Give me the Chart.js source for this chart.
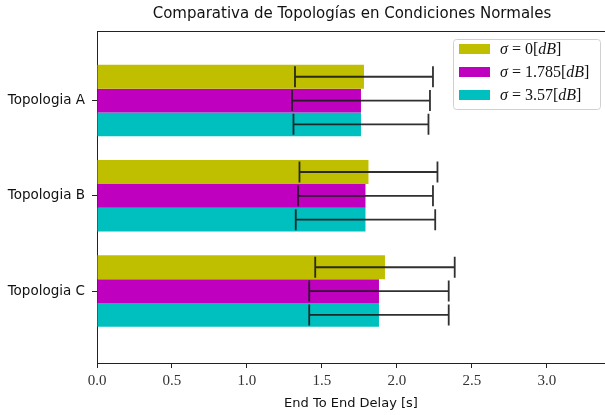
<!DOCTYPE html>
<html>
<head>
<meta charset="utf-8">
<script src="https://cdn.jsdelivr.net/npm/chart.js@4"></script>
<style>
  html, body { margin: 0; padding: 0; background: #fff; }
  #wrap { width: 605px; height: 415px; }
</style>
</head>
<body>
<div id="wrap"><canvas id="delayChart"></canvas></div>
<script>
const categories = ['Topologia A', 'Topologia B', 'Topologia C'];
const seriesNames = [['σ', ' = 0[', 'dB', ']'], ['σ', ' = 1.785[', 'dB', ']'], ['σ', ' = 3.57[', 'dB', ']']];
const sigma0 = [1.78, 1.81, 1.92];
const sigma1785 = [1.76, 1.79, 1.88];
const sigma357 = [1.76, 1.79, 1.88];
const err0 = [0.46, 0.46, 0.465];
const err1785 = [0.46, 0.45, 0.465];
const err357 = [0.45, 0.465, 0.465];
const xTicks = [0, 0.5, 1, 1.5, 2, 2.5, 3];
const colors = ['#bfbf00', '#bf00bf', '#00bfbf'];

const titleText = 'Comparativa de Topologías en Condiciones Normales';
const sansFont = '"DejaVu Sans", sans-serif';
const serifFont = '"Liberation Serif", serif';

function toPoints(values) {
    return values.map((v, i) => ({ x: v, y: i }));
}

const datasets = [sigma0, sigma1785, sigma357].map((vals, k) => ({
    label: seriesNames[k].join(''),
    data: toPoints(vals),
    errors: [err0, err1785, err357][k],
    backgroundColor: colors[k],
    borderWidth: 0,
    categoryPercentage: 0.75,
    barPercentage: 1.0
}));

// error bars, frame, title and legend
const extras = {
    id: 'extras',
    afterDatasetsDraw(chart) {
        const ctx = chart.ctx;
        const xs = chart.scales.x;
        ctx.save();
        ctx.strokeStyle = 'rgba(25,25,25,0.9)';
        ctx.lineWidth = 1.8;
        chart.data.datasets.forEach((ds, k) => {
            const meta = chart.getDatasetMeta(k);
            meta.data.forEach((bar, i) => {
                const v = ds.data[i].x;
                const e = ds.errors[i];
                const x1 = xs.getPixelForValue(v - e);
                const x2 = xs.getPixelForValue(v + e);
                const y = bar.y;
                const cap = 10.5;
                ctx.beginPath();
                ctx.moveTo(x1, y); ctx.lineTo(x2, y);
                ctx.moveTo(x1, y - cap); ctx.lineTo(x1, y + cap);
                ctx.moveTo(x2, y - cap); ctx.lineTo(x2, y + cap);
                ctx.stroke();
            });
        });
        ctx.restore();
    },
    afterDraw(chart) {
        const ctx = chart.ctx;
        const area = chart.chartArea;
        const xs = chart.scales.x;
        ctx.save();
        // top spine
        ctx.strokeStyle = '#222';
        ctx.lineWidth = 1;
        ctx.beginPath();
        ctx.moveTo(area.left, area.top + 0.5);
        ctx.lineTo(area.right, area.top + 0.5);
        ctx.stroke();

        // title centred over the full axes (which run a bit past the canvas)
        const axesRight = xs.getPixelForValue(3.4);
        ctx.fillStyle = '#111';
        ctx.font = '15px ' + sansFont;
        ctx.textAlign = 'center';
        ctx.textBaseline = 'middle';
        ctx.fillText(titleText, (area.left + axesRight) / 2, 14);

        // legend box
        const bx = 453, by = 39, bw = 147, bh = 70;
        ctx.fillStyle = 'rgba(255,255,255,0.8)';
        ctx.strokeStyle = '#d0d0d0';
        ctx.lineWidth = 1;
        ctx.beginPath();
        ctx.roundRect(bx + 0.5, by + 0.5, bw, bh, 3);
        ctx.fill();
        ctx.stroke();
        ctx.textAlign = 'left';
        seriesNames.forEach((parts, k) => {
            const cy = by + 10 + k * 23;
            ctx.fillStyle = colors[k];
            ctx.fillRect(459, cy - 5, 31, 10);
            let tx = 500;
            ctx.fillStyle = '#111';
            parts.forEach((p, j) => {
                const italic = (j === 0 || j === 2);
                ctx.font = (italic ? 'italic ' : '') + '16px ' + serifFont;
                ctx.fillText(p, tx, cy + 1);
                tx += ctx.measureText(p).width;
            });
        });
        ctx.restore();
    }
};

new Chart('delayChart', {
    type: 'bar',
    data: { datasets },
    options: {
        indexAxis: 'y',
        responsive: true,
        maintainAspectRatio: false,
        animation: false,
        layout: { padding: { top: 31, right: 0, left: 0, bottom: 0 } },
        plugins: {
            legend: { display: false },
            title: { display: false },
            tooltip: { enabled: false }
        },
        scales: {
            x: {
                type: 'linear',
                min: 0,
                max: 3.387,
                afterBuildTicks: (scale) => { scale.ticks = xTicks.map(v => ({ value: v })); },
                afterFit: (scale) => { scale.height = 52; },
                grid: { drawOnChartArea: false, drawTicks: true, tickLength: 5, color: '#222' },
                border: { color: '#222', width: 1 },
                ticks: {
                    color: '#333',
                    padding: 4,
                    font: { family: serifFont, size: 15 },
                    callback: v => Number(v).toFixed(1)
                },
                title: {
                    display: true,
                    text: 'End To End Delay [s]',
                    color: '#111',
                    font: { family: sansFont, size: 13 },
                    padding: { top: 0, bottom: 4 }
                }
            },
            y: {
                type: 'linear',
                reverse: true,
                offset: false,
                min: -0.73,
                max: 2.755,
                afterBuildTicks: (scale) => { scale.ticks = categories.map((c, i) => ({ value: i })); },
                afterFit: (scale) => { scale.width = 97; },
                grid: { offset: false, drawOnChartArea: false, drawTicks: true, tickLength: 5, color: '#222' },
                border: { color: '#222', width: 1 },
                ticks: {
                    color: '#111',
                    padding: 7,
                    font: { family: sansFont, size: 13.5 },
                    callback: v => categories[v] || ''
                }
            }
        }
    },
    plugins: [extras]
});
</script>
</body>
</html>
